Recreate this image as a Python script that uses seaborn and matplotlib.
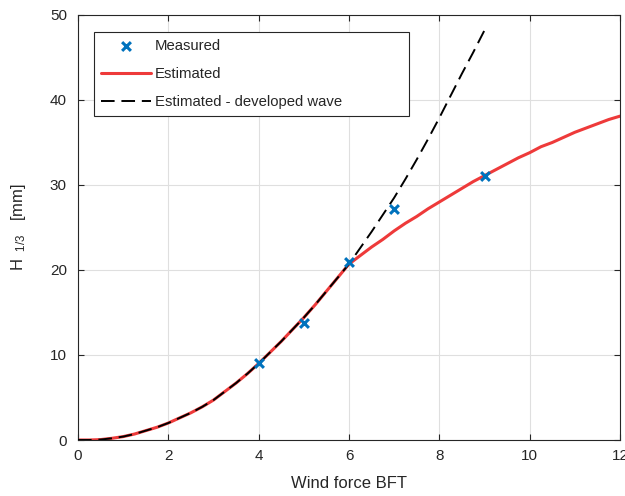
import matplotlib
matplotlib.use("Agg")
import matplotlib.pyplot as plt
import seaborn as sns
import pandas as pd

# measured significant wave height per Beaufort force
bft_measured = [4, 5, 6, 7, 9]
h_measured = [9.1, 13.8, 20.9, 27.2, 31.1]

# shared lower part of both estimates (0 .. 6 BFT, step 0.25)
bft_low = [0, 0.25, 0.5, 0.75, 1, 1.25, 1.5, 1.75, 2, 2.25, 2.5, 2.75, 3,
           3.25, 3.5, 3.75, 4, 4.25, 4.5, 4.75, 5, 5.25, 5.5, 5.75, 6]
h_low = [0, 0.0, 0.05, 0.2, 0.4, 0.7, 1.1, 1.5, 2.0, 2.6, 3.2, 3.9, 4.7,
         5.7, 6.7, 7.8, 9.0, 10.3, 11.6, 13.0, 14.4, 15.9, 17.5, 19.1, 20.7]

# estimated curve above 6 BFT
bft_high = [6.25, 6.5, 6.75, 7, 7.25, 7.5, 7.75, 8, 8.25, 8.5, 8.75, 9,
            9.25, 9.5, 9.75, 10, 10.25, 10.5, 10.75, 11, 11.25, 11.5, 11.75, 12]
h_high = [21.7, 22.7, 23.6, 24.6, 25.5, 26.3, 27.2, 28.0, 28.8, 29.6, 30.4, 31.1,
          31.8, 32.5, 33.2, 33.8, 34.5, 35.0, 35.6, 36.2, 36.7, 37.2, 37.7, 38.1]

# estimated - fully developed wave above 6 BFT
bft_dev_high = [6.25, 6.5, 6.75, 7, 7.25, 7.5, 7.75, 8, 8.25, 8.5, 8.75, 9]
h_dev_high = [22.6, 24.5, 26.5, 28.5, 30.7, 33.0, 35.4, 37.9, 40.5, 43.1, 45.6, 48.2]

sns.set_style("whitegrid")
plt.rcParams['font.family'] = ['Liberation Sans', 'DejaVu Sans']
plt.rcParams['mathtext.default'] = 'regular'

fig = plt.figure(figsize=(6.25, 4.96), dpi=100)
ax = fig.add_axes([0.1248, 0.1129, 0.8672, 0.8569])

df_meas = pd.DataFrame({"bft": bft_measured, "h": h_measured})
df_est = pd.DataFrame({"bft": bft_low + bft_high, "h": h_low + h_high})
df_dev = pd.DataFrame({"bft": bft_low + bft_dev_high, "h": h_low + h_dev_high})

sns.scatterplot(data=df_meas, x="bft", y="h", ax=ax, marker="x", color="#0072BD",
                s=40, linewidth=2.2, label="Measured", zorder=4)
sns.lineplot(data=df_est, x="bft", y="h", ax=ax, color="#EE3A3A", linewidth=2.2,
             label="Estimated", zorder=2)
sns.lineplot(data=df_dev, x="bft", y="h", ax=ax, color="black", linewidth=1.4,
             linestyle=(0, (7, 3.5)), label="Estimated - developed wave", zorder=3)

ax.set_xlim(0, 12)
ax.set_ylim(0, 50)
ax.set_xticks(range(0, 13, 2))
ax.set_yticks(range(0, 51, 10))
ax.grid(True, color="#dfdfdf", linewidth=0.8)
for s in ax.spines.values():
    s.set_color("#262626")
    s.set_linewidth(0.8)
    s.set_visible(True)
ax.tick_params(direction="in", length=4, width=0.8, colors="#262626",
               labelsize=11, top=True, right=True, bottom=True, left=True,
               labelcolor="#262626")
ax.tick_params(axis="x", pad=6.5)
ax.tick_params(axis="y", pad=8)
ax.set_xlabel("Wind force BFT", fontsize=12, color="#262626", labelpad=9)
ax.set_ylabel(r"H$_{\ \ 1/3}$   [mm]", fontsize=12, color="#262626", labelpad=16)

leg = ax.legend(loc="upper left", bbox_to_anchor=(0.0295, 0.772, 0.581, 0.188),
                mode="expand", fontsize=10.7, frameon=True, fancybox=False,
                framealpha=1, borderpad=0.45, handlelength=3.4, labelspacing=0.95,
                handletextpad=0.25, borderaxespad=0)
leg.get_frame().set_edgecolor("#262626")
leg.get_frame().set_linewidth(0.8)

plt.savefig("out.png", dpi=100)
plt.close()
